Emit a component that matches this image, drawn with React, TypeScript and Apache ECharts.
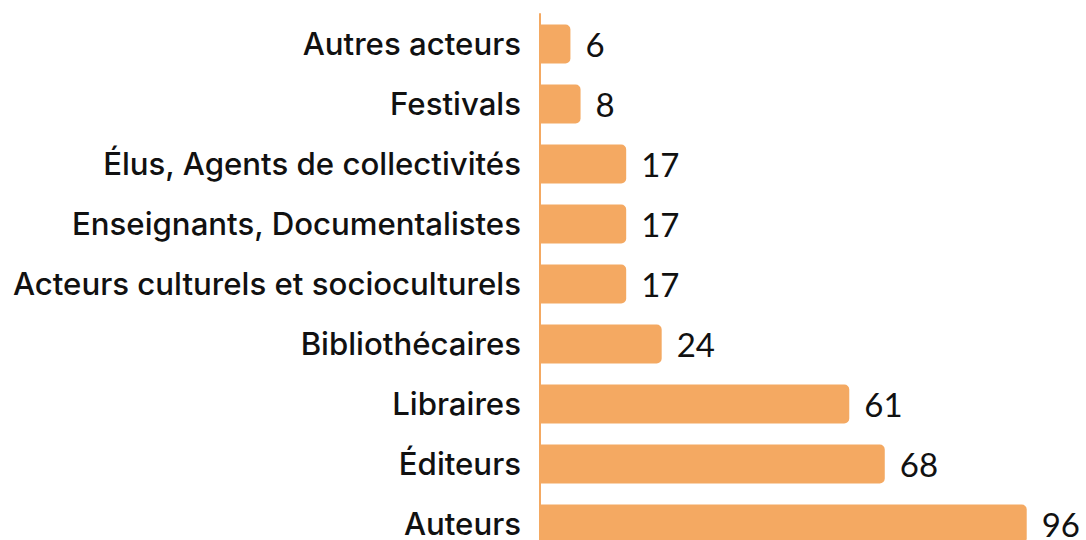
import React, { useEffect, useRef } from "react";
import * as echarts from "echarts";

const categories = [
  "Autres acteurs",
  "Festivals",
  "Élus, Agents de collectivités",
  "Enseignants, Documentalistes",
  "Acteurs culturels et socioculturels",
  "Bibliothécaires",
  "Libraires",
  "Éditeurs",
  "Auteurs",
];
const values = [6, 8, 17, 17, 17, 24, 61, 68, 96];

const BAR_COLOR = "#F4A962";

export default function App() {
  const ref = useRef<HTMLDivElement>(null);
  useEffect(() => {
    if (!ref.current) return;
    const chart = echarts.init(ref.current, null, { renderer: "svg" });
    chart.setOption({
      animation: false,
      grid: { left: 540, top: 14, width: 507, height: 540, containLabel: false },
      xAxis: {
        type: "value",
        min: 0,
        max: 100,
        show: false,
      },
      yAxis: {
        type: "category",
        data: categories,
        inverse: true,
        axisLine: { show: true, lineStyle: { color: BAR_COLOR, width: 2 } },
        axisTick: { show: false },
        splitLine: { show: false },
        axisLabel: {
          margin: 19,
          color: "#111111",
          fontSize: 31.2,
          fontWeight: 500,
          fontFamily: "Inter",
          padding: [0, 0, 2, 0],
        },
      },
      series: [
        {
          type: "bar",
          data: values,
          barWidth: 39,
          itemStyle: { color: BAR_COLOR, borderRadius: [0, 5, 5, 0] },
          label: {
            show: true,
            position: "right",
            distance: 15,
            color: "#111111",
            fontSize: 33,
            fontFamily: "Lato",
          },
        },
      ],
    });
    return () => chart.dispose();
  }, []);
  return (
    <div
      ref={ref}
      style={{ position: "fixed", left: 0, top: 0, width: 1086, height: 560, background: "#fff" }}
    />
  );
}
